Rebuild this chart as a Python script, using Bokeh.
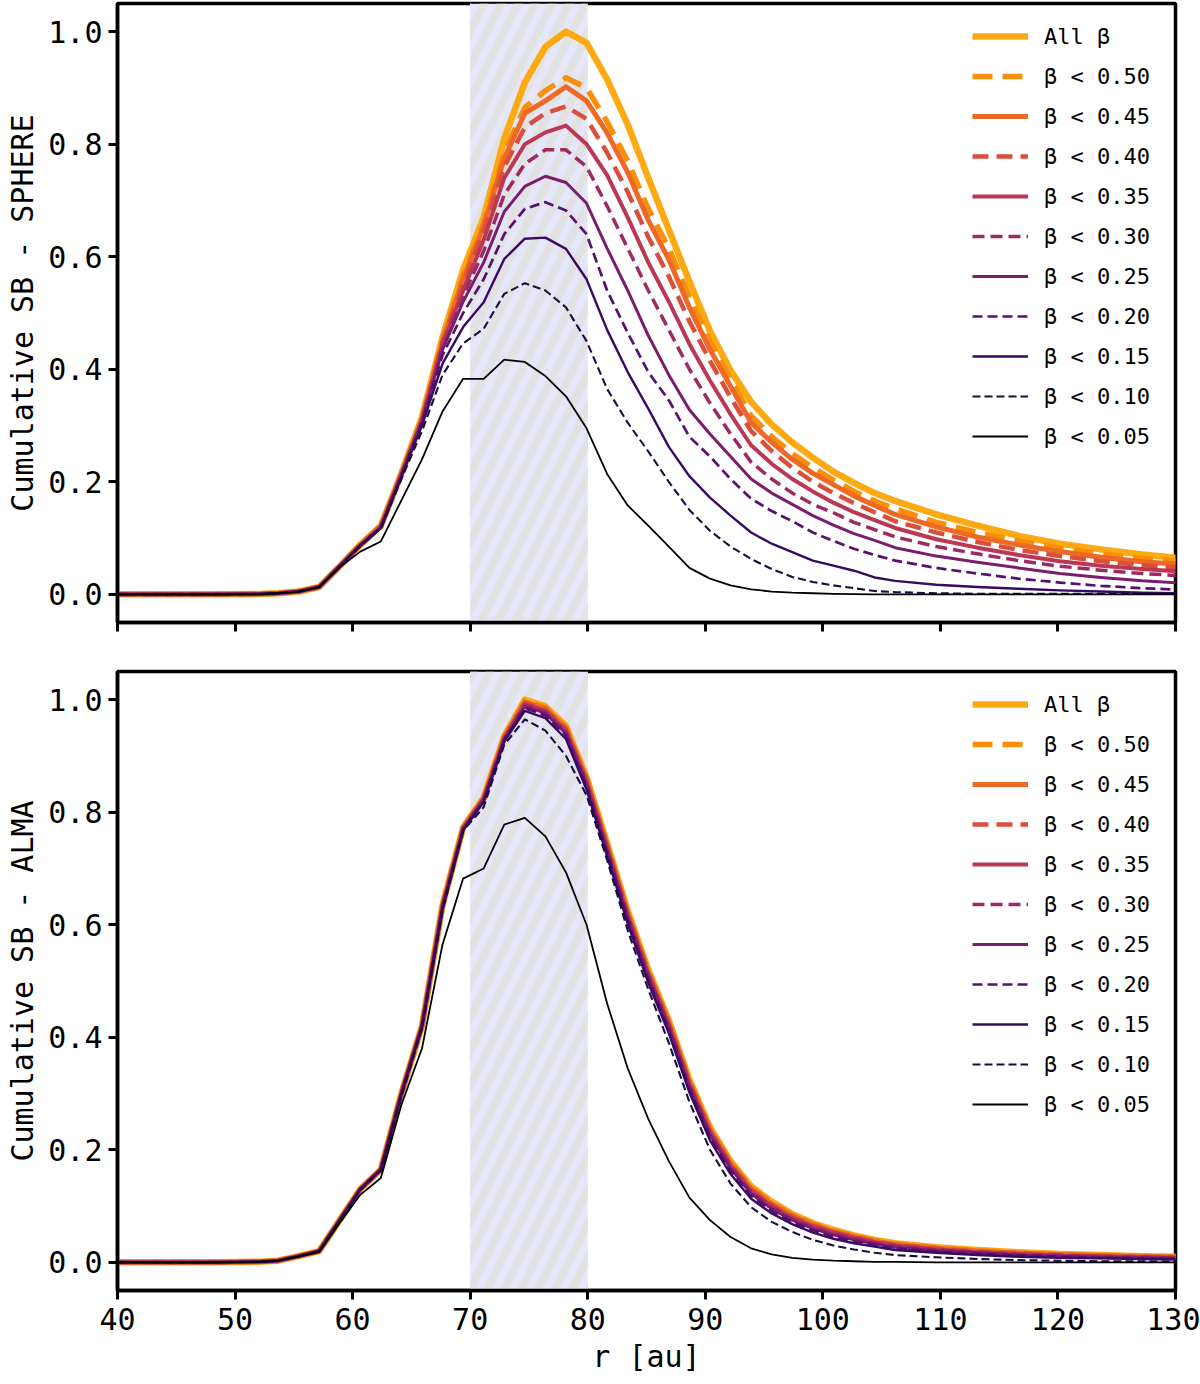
from bokeh.plotting import figure
from bokeh.models import (BoxAnnotation, Legend, LegendItem, FixedTicker,
                          CustomJSTickFormatter, NumeralTickFormatter)
from bokeh.layouts import column
from bokeh.embed import file_html
from bokeh.resources import INLINE

# ---------------- data ----------------
r_au = [40.0, 44.0, 48.0, 52.0, 53.65, 55.4, 57.15, 58.9, 60.65, 62.4, 64.15, 65.9, 67.65, 69.4,
        71.15, 72.9, 74.65, 76.4, 78.15, 79.9, 81.65, 83.4, 85.15, 86.9, 88.65, 90.4, 92.15, 93.9,
        95.65, 97.4, 99.15, 100.9, 102.65, 104.4, 106.15, 109.65, 113.15, 116.65, 120.15, 123.65,
        127.15, 130.65]

labels = ["All β", "β < 0.50", "β < 0.45", "β < 0.40", "β < 0.35", "β < 0.30",
          "β < 0.25", "β < 0.20", "β < 0.15", "β < 0.10", "β < 0.05"]

band_au = [70, 80]
x_ticks = [40, 50, 60, 70, 80, 90, 100, 110, 120, 130]
y_ticks = [0.0, 0.2, 0.4, 0.6, 0.8, 1.0]

# SPHERE (top panel)
sphere_all = [0, 0, 0, 0.0005, 0.002, 0.005, 0.013, 0.05, 0.088, 0.122, 0.215, 0.315, 0.457, 0.577, 0.67, 0.81, 0.91, 0.973, 1.0, 0.98, 0.915, 0.835, 0.74, 0.648, 0.556, 0.468, 0.398, 0.342, 0.302, 0.27, 0.243, 0.218, 0.198, 0.18, 0.166, 0.142, 0.122, 0.104, 0.09, 0.08, 0.071, 0.064]
sphere_050 = [0, 0, 0, 0.0005, 0.002, 0.005, 0.013, 0.05, 0.088, 0.121, 0.214, 0.312, 0.452, 0.565, 0.66, 0.785, 0.865, 0.895, 0.918, 0.9, 0.84, 0.77, 0.685, 0.615, 0.528, 0.45, 0.383, 0.317, 0.28, 0.25, 0.225, 0.203, 0.183, 0.166, 0.152, 0.128, 0.11, 0.095, 0.082, 0.072, 0.064, 0.058]
sphere_045 = [0, 0, 0, 0.0005, 0.002, 0.005, 0.013, 0.05, 0.088, 0.121, 0.214, 0.311, 0.45, 0.56, 0.655, 0.775, 0.855, 0.877, 0.902, 0.877, 0.82, 0.75, 0.665, 0.595, 0.51, 0.435, 0.37, 0.305, 0.27, 0.24, 0.215, 0.195, 0.175, 0.158, 0.142, 0.12, 0.102, 0.088, 0.076, 0.066, 0.058, 0.053]
sphere_040 = [0, 0, 0, 0.0005, 0.002, 0.005, 0.013, 0.05, 0.087, 0.12, 0.213, 0.31, 0.447, 0.55, 0.645, 0.76, 0.83, 0.855, 0.867, 0.845, 0.785, 0.715, 0.635, 0.565, 0.485, 0.415, 0.35, 0.29, 0.255, 0.225, 0.2, 0.18, 0.162, 0.146, 0.13, 0.11, 0.093, 0.079, 0.068, 0.059, 0.052, 0.047]
sphere_035 = [0, 0, 0, 0.0005, 0.002, 0.005, 0.013, 0.05, 0.087, 0.12, 0.213, 0.309, 0.444, 0.54, 0.63, 0.74, 0.80, 0.821, 0.833, 0.80, 0.745, 0.67, 0.59, 0.52, 0.445, 0.38, 0.32, 0.265, 0.232, 0.205, 0.183, 0.163, 0.146, 0.132, 0.118, 0.098, 0.083, 0.07, 0.059, 0.051, 0.045, 0.04]
sphere_030 = [0, 0, 0, 0.0005, 0.002, 0.005, 0.013, 0.05, 0.087, 0.12, 0.212, 0.308, 0.44, 0.53, 0.61, 0.71, 0.765, 0.79, 0.79, 0.76, 0.69, 0.615, 0.54, 0.47, 0.40, 0.34, 0.285, 0.235, 0.205, 0.18, 0.16, 0.145, 0.128, 0.115, 0.102, 0.085, 0.072, 0.06, 0.05, 0.043, 0.037, 0.033]
sphere_025 = [0, 0, 0, 0.0005, 0.002, 0.005, 0.013, 0.05, 0.087, 0.119, 0.212, 0.307, 0.435, 0.52, 0.59, 0.68, 0.725, 0.743, 0.732, 0.695, 0.615, 0.54, 0.46, 0.39, 0.328, 0.285, 0.245, 0.205, 0.18, 0.16, 0.14, 0.123, 0.108, 0.096, 0.083, 0.068, 0.057, 0.047, 0.037, 0.03, 0.024, 0.02]
sphere_020 = [0, 0, 0, 0.0005, 0.002, 0.005, 0.013, 0.05, 0.087, 0.119, 0.211, 0.305, 0.425, 0.50, 0.56, 0.64, 0.685, 0.697, 0.682, 0.64, 0.54, 0.465, 0.395, 0.345, 0.28, 0.245, 0.205, 0.17, 0.148, 0.13, 0.11, 0.095, 0.081, 0.07, 0.06, 0.047, 0.037, 0.028, 0.021, 0.015, 0.011, 0.008]
sphere_015 = [0, 0, 0, 0.0005, 0.002, 0.005, 0.013, 0.05, 0.087, 0.118, 0.21, 0.30, 0.41, 0.475, 0.519, 0.596, 0.632, 0.634, 0.614, 0.56, 0.47, 0.395, 0.33, 0.262, 0.21, 0.172, 0.14, 0.11, 0.09, 0.075, 0.06, 0.051, 0.042, 0.03, 0.024, 0.017, 0.013, 0.01, 0.007, 0.005, 0.003, 0.002]
sphere_010 = [0, 0, 0, 0.0005, 0.002, 0.005, 0.013, 0.05, 0.086, 0.117, 0.205, 0.29, 0.39, 0.446, 0.472, 0.534, 0.553, 0.54, 0.51, 0.45, 0.365, 0.305, 0.254, 0.20, 0.15, 0.113, 0.085, 0.063, 0.045, 0.031, 0.022, 0.016, 0.011, 0.006, 0.004, 0.002, 0.001, 0.001, 0.001, 0.001, 0.001, 0.001]
sphere_005 = [0, 0, 0, 0.0005, 0.002, 0.005, 0.013, 0.048, 0.076, 0.094, 0.167, 0.24, 0.325, 0.383, 0.383, 0.417, 0.413, 0.388, 0.352, 0.295, 0.214, 0.158, 0.122, 0.085, 0.047, 0.028, 0.016, 0.009, 0.005, 0.003, 0.002, 0.001, 0.0005, 0, 0, 0, 0, 0, 0, 0, 0, 0]

# ALMA (bottom panel)
alma_all = [0, 0, 0, 0.001, 0.003, 0.011, 0.02, 0.075, 0.13, 0.165, 0.30, 0.42, 0.635, 0.773, 0.826, 0.935, 1.0, 0.988, 0.953, 0.862, 0.745, 0.625, 0.52, 0.43, 0.325, 0.24, 0.18, 0.135, 0.108, 0.086, 0.07, 0.058, 0.048, 0.04, 0.034, 0.027, 0.022, 0.018, 0.015, 0.013, 0.011, 0.010]
alma_050 = [0, 0, 0, 0.001, 0.003, 0.011, 0.02, 0.075, 0.13, 0.165, 0.30, 0.42, 0.634, 0.772, 0.825, 0.934, 0.998, 0.986, 0.951, 0.86, 0.743, 0.623, 0.518, 0.428, 0.323, 0.238, 0.178, 0.133, 0.106, 0.084, 0.068, 0.056, 0.047, 0.039, 0.033, 0.026, 0.021, 0.017, 0.014, 0.012, 0.011, 0.010]
alma_045 = [0, 0, 0, 0.001, 0.003, 0.011, 0.02, 0.075, 0.13, 0.165, 0.30, 0.42, 0.634, 0.772, 0.825, 0.933, 0.996, 0.984, 0.949, 0.858, 0.741, 0.621, 0.516, 0.426, 0.321, 0.236, 0.176, 0.131, 0.104, 0.083, 0.067, 0.055, 0.046, 0.038, 0.032, 0.025, 0.02, 0.016, 0.014, 0.012, 0.01, 0.009]
alma_040 = [0, 0, 0, 0.001, 0.003, 0.011, 0.02, 0.075, 0.13, 0.165, 0.30, 0.42, 0.633, 0.771, 0.824, 0.932, 0.994, 0.982, 0.947, 0.856, 0.739, 0.619, 0.514, 0.424, 0.319, 0.234, 0.174, 0.129, 0.102, 0.081, 0.065, 0.054, 0.045, 0.037, 0.031, 0.024, 0.019, 0.016, 0.013, 0.011, 0.01, 0.009]
alma_035 = [0, 0, 0, 0.001, 0.003, 0.011, 0.02, 0.075, 0.13, 0.165, 0.30, 0.42, 0.633, 0.771, 0.824, 0.931, 0.992, 0.98, 0.945, 0.854, 0.737, 0.617, 0.512, 0.422, 0.317, 0.232, 0.172, 0.127, 0.1, 0.079, 0.064, 0.053, 0.044, 0.036, 0.03, 0.023, 0.018, 0.015, 0.012, 0.011, 0.009, 0.008]
alma_030 = [0, 0, 0, 0.001, 0.003, 0.011, 0.02, 0.075, 0.13, 0.165, 0.30, 0.42, 0.632, 0.77, 0.823, 0.93, 0.99, 0.978, 0.943, 0.852, 0.735, 0.615, 0.51, 0.42, 0.315, 0.23, 0.17, 0.125, 0.098, 0.077, 0.062, 0.051, 0.042, 0.035, 0.029, 0.022, 0.018, 0.014, 0.012, 0.01, 0.009, 0.008]
alma_025 = [0, 0, 0, 0.001, 0.003, 0.011, 0.02, 0.075, 0.13, 0.165, 0.30, 0.42, 0.632, 0.77, 0.822, 0.929, 0.988, 0.976, 0.94, 0.849, 0.732, 0.612, 0.507, 0.417, 0.312, 0.227, 0.167, 0.122, 0.095, 0.075, 0.06, 0.049, 0.04, 0.033, 0.027, 0.021, 0.017, 0.013, 0.011, 0.009, 0.008, 0.007]
alma_020 = [0, 0, 0, 0.001, 0.003, 0.011, 0.02, 0.075, 0.13, 0.165, 0.30, 0.42, 0.631, 0.769, 0.82, 0.928, 0.985, 0.972, 0.936, 0.845, 0.728, 0.608, 0.503, 0.413, 0.308, 0.223, 0.163, 0.118, 0.092, 0.072, 0.057, 0.046, 0.037, 0.031, 0.025, 0.019, 0.015, 0.012, 0.01, 0.008, 0.007, 0.006]
alma_015 = [0, 0, 0, 0.001, 0.003, 0.011, 0.02, 0.075, 0.13, 0.165, 0.30, 0.42, 0.63, 0.768, 0.818, 0.926, 0.98, 0.967, 0.93, 0.84, 0.722, 0.602, 0.497, 0.407, 0.302, 0.217, 0.157, 0.113, 0.087, 0.068, 0.053, 0.042, 0.034, 0.028, 0.022, 0.017, 0.013, 0.01, 0.008, 0.007, 0.006, 0.005]
alma_010 = [0, 0, 0, 0.001, 0.003, 0.011, 0.02, 0.074, 0.128, 0.163, 0.295, 0.415, 0.625, 0.767, 0.809, 0.92, 0.965, 0.945, 0.90, 0.83, 0.715, 0.59, 0.485, 0.39, 0.285, 0.20, 0.14, 0.098, 0.072, 0.054, 0.04, 0.03, 0.023, 0.017, 0.013, 0.009, 0.006, 0.004, 0.003, 0.002, 0.002, 0.001]
alma_005 = [0, 0, 0, 0.001, 0.003, 0.01, 0.018, 0.07, 0.12, 0.15, 0.28, 0.38, 0.565, 0.682, 0.70, 0.778, 0.79, 0.757, 0.693, 0.60, 0.46, 0.345, 0.255, 0.18, 0.115, 0.075, 0.045, 0.025, 0.014, 0.008, 0.005, 0.003, 0.002, 0.001, 0.001, 0, 0, 0, 0, 0, 0, 0]

sphere_series = [sphere_all, sphere_050, sphere_045, sphere_040, sphere_035, sphere_030,
                 sphere_025, sphere_020, sphere_015, sphere_010, sphere_005]
alma_series = [alma_all, alma_050, alma_045, alma_040, alma_035, alma_030,
               alma_025, alma_020, alma_015, alma_010, alma_005]

# ---------------- styles ----------------
colors = ["#fdaa12", "#f98e09", "#ed6925", "#da4e3c", "#bc3754", "#9e2a63",
          "#7a1d6d", "#57106e", "#380a64", "#1b0c41", "#000004"]
widths = [6.5, 5.5, 5.0, 4.5, 4.0, 3.5, 3.0, 2.7, 2.4, 2.1, 1.8]
dashes = ["solid", "20 10", "solid", "16 8", "solid", "12 6", "solid", "10 5", "solid", "8 4", "solid"]

FONT = "DejaVu Sans Mono"


def make_panel(series, ylabel, height, top, bottom, show_xlabels):
    p = figure(width=1200, height=height, x_range=(40, 130), y_range=(-0.05, 1.05),
               output_backend="svg", toolbar_location=None,
               min_border_left=117, min_border_right=25,
               min_border_top=top, min_border_bottom=bottom)
    p.background_fill_color = "white"
    p.border_fill_color = "white"
    p.xgrid.visible = False
    p.ygrid.visible = False
    p.outline_line_color = "black"
    p.outline_line_width = 3.5

    band = BoxAnnotation(left=band_au[0], right=band_au[1], fill_color="#e6e6fa", fill_alpha=1.0,
                         line_color=None, hatch_pattern="/", hatch_color="#e2e2e2",
                         hatch_alpha=1.0, hatch_scale=34, hatch_weight=8, level="underlay")
    p.add_layout(band)

    items = []
    for lab, ys, c, w, d in zip(labels, series, colors, widths, dashes):
        rend = p.line(r_au, ys, line_color=c, line_width=w, line_dash=d, line_join="round")
        items.append(LegendItem(label=lab, renderers=[rend]))

    legend = Legend(items=items, location="top_right", margin=20, padding=14,
                    label_text_font=FONT, label_text_font_size="22px", label_text_color="black",
                    glyph_width=56, glyph_height=26, label_height=26, label_width=111, spacing=14,
                    label_standoff=16, border_line_color=None, background_fill_alpha=0.0)
    p.add_layout(legend)

    for ax in (p.xaxis[0], p.yaxis[0]):
        ax.axis_line_width = 3.5
        ax.axis_line_color = "black"
        ax.major_tick_out = 9
        ax.major_tick_in = 0
        ax.major_tick_line_width = 3
        ax.minor_tick_line_color = None
        ax.major_label_text_font = FONT
        ax.major_label_text_font_size = "30px"
        ax.major_label_text_color = "black"
        ax.axis_label_text_font = FONT
        ax.axis_label_text_font_size = "30px"
        ax.axis_label_text_font_style = "normal"
        ax.axis_label_text_color = "black"

    p.xaxis.ticker = FixedTicker(ticks=x_ticks)
    p.yaxis.ticker = FixedTicker(ticks=y_ticks)
    p.yaxis.formatter = NumeralTickFormatter(format="0.0")
    p.yaxis.axis_label = ylabel
    p.yaxis.major_label_standoff = 6
    p.yaxis.axis_label_standoff = 5
    if show_xlabels:
        p.xaxis.axis_label = "r [au]"
        p.xaxis.major_label_standoff = 8
        p.xaxis.axis_label_standoff = 6
    else:
        p.xaxis.formatter = CustomJSTickFormatter(code="return ''")
        p.xaxis.major_label_text_font_size = "1px"
        p.xaxis.major_label_standoff = 0
    return p


p_top = make_panel(sphere_series, "Cumulative SB - SPHERE", 646, 3, 24, False)
p_bot = make_panel(alma_series, "Cumulative SB - ALMA", 738, 25, 94, True)

layout = column(p_top, p_bot, spacing=0)

with open("out.html", "w") as f:
    f.write(file_html(layout, INLINE))
